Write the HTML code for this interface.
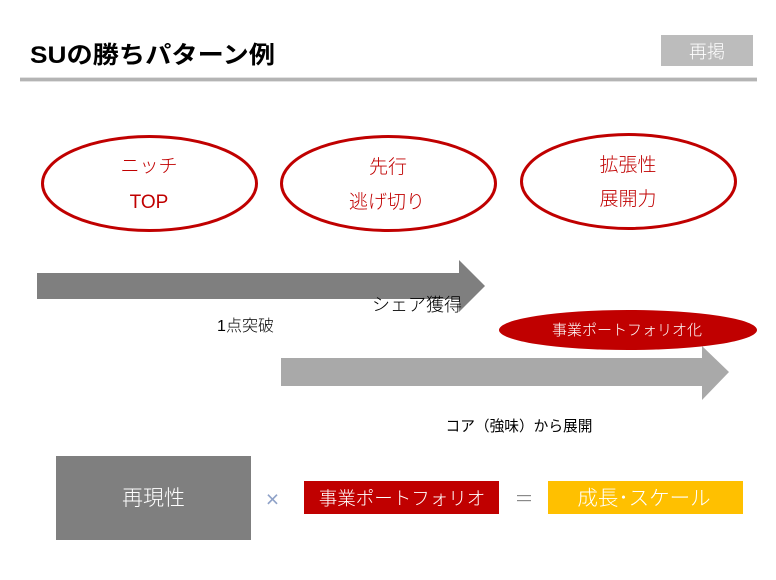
<!DOCTYPE html>
<html><head><meta charset="utf-8">
<style>
html,body{margin:0;padding:0;background:#fff;width:776px;height:580px;overflow:hidden}
svg{display:block}
text{font-family:"Liberation Sans","Noto Sans CJK JP",sans-serif}
.thin{font-weight:300}
</style></head>
<body>
<svg width="776" height="580" viewBox="0 0 776 580" xmlns="http://www.w3.org/2000/svg">
<rect width="776" height="580" fill="#fff"/>
<text x="30" y="63" font-size="24" font-weight="bold" fill="#000" textLength="245" lengthAdjust="spacingAndGlyphs">SUの勝ちパターン例</text>
<rect x="661" y="35" width="92" height="31" fill="#bcbcbc"/>
<text x="707" y="58" font-size="18" fill="#fff" text-anchor="middle" class="thin">再掲</text>
<rect x="20" y="77" width="737" height="5" fill="#e2e2e2"/>
<rect x="20" y="78" width="737" height="3" fill="#b4b4b4"/>

<g fill="#fff" stroke="#c00000" stroke-width="3">
<ellipse cx="149.500" cy="183.500" rx="107" ry="47"/>
<ellipse cx="388.500" cy="183.500" rx="107" ry="47"/>
<ellipse cx="628.500" cy="181.500" rx="107" ry="47"/>
</g>
<g font-size="19" fill="#c00000" text-anchor="middle" class="thin">
<text x="149" y="172">ニッチ</text>
<text x="149" y="208">TOP</text>
<text x="388" y="173">先行</text>
<text x="387" y="208">逃げ切り</text>
<text x="628" y="171">拡張性</text>
<text x="628" y="205">展開力</text>
</g>

<polygon points="37,273 459,273 459,260 485,286 459,312 459,299 37,299" fill="#7f7f7f"/>
<polygon points="281,358 702,358 702,346 729,372 702,400 702,386 281,386" fill="#a9a9a9"/>
<text x="417" y="311" font-size="18" fill="#000" text-anchor="middle" class="thin">シェア獲得</text>
<text x="245.500" y="331" font-size="16" fill="#000" text-anchor="middle" class="thin">1点突破</text>
<ellipse cx="628" cy="330" rx="129" ry="20" fill="#c00000"/>
<text x="627" y="335" font-size="15" fill="#fff" text-anchor="middle" class="thin">事業ポートフォリオ化</text>
<text x="519" y="431" font-size="14.700" fill="#000" text-anchor="middle">コア（強味）から展開</text>

<rect x="56" y="456" width="195" height="84" fill="#7f7f7f"/>
<text x="153.500" y="505" font-size="21" fill="#fff" text-anchor="middle" class="thin">再現性</text>
<text x="272.500" y="507" font-size="23" fill="#8fa2c8" text-anchor="middle" class="thin">×</text>
<rect x="304" y="481" width="195" height="33" fill="#c00000"/>
<text x="402" y="505" font-size="18.500" fill="#fff" text-anchor="middle" class="thin">事業ポートフォリオ</text>
<rect x="517" y="495" width="14" height="1.200" fill="#8a8a8a"/>
<rect x="517" y="500" width="14" height="1.200" fill="#8a8a8a"/>
<rect x="548" y="481" width="195" height="33" fill="#ffc000"/>
<text x="644" y="505" font-size="20.500" fill="#fff" text-anchor="middle" class="thin">成長･スケール</text>
</svg>
</body></html>
